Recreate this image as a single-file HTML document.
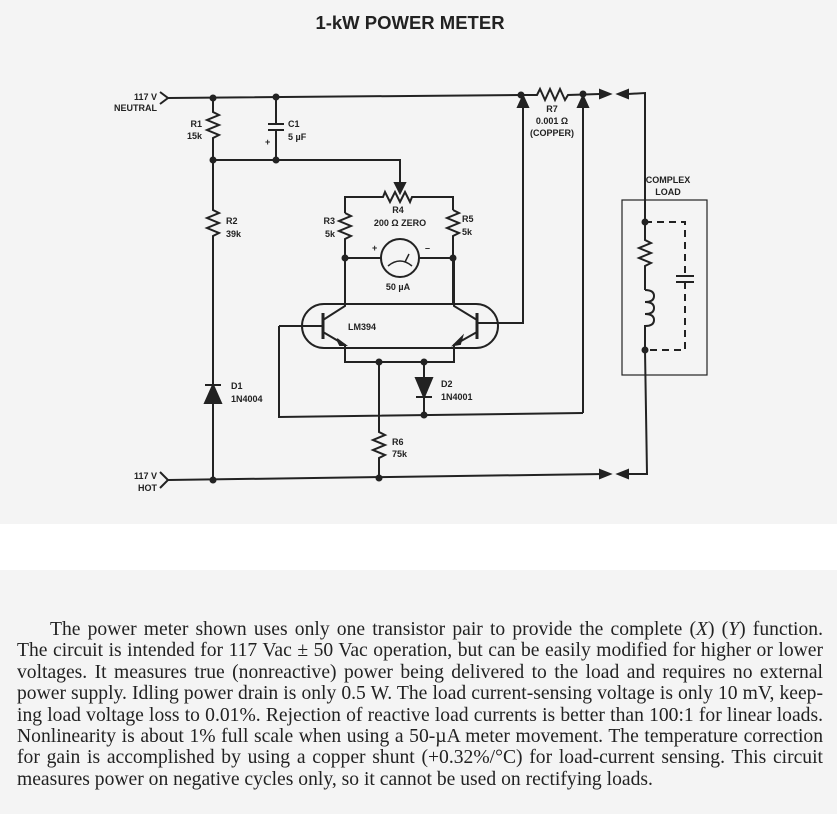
<!DOCTYPE html>
<html><head><meta charset="utf-8"><style>
body{margin:0;width:837px;height:814px;background:#f4f4f4;overflow:hidden;position:relative}
.band{position:absolute;left:0;top:524px;width:837px;height:46px;background:#fff}
svg{position:absolute;left:0;top:0}
.p{position:absolute;left:17px;top:619px;width:806px;font-family:"Liberation Serif",serif;font-size:19.6px;line-height:21.4px;color:#222}
.p div{text-align:justify;text-align-last:justify;white-space:nowrap}
.p div.l{text-align-last:left}
</style></head><body>
<div class="band"></div>
<svg width="837" height="524" viewBox="0 0 837 524" font-family="Liberation Sans,sans-serif" font-weight="bold" fill="none" stroke="#222" stroke-width="2">
<text x="410" y="29" text-anchor="middle" font-size="18.5" fill="#222" stroke="none">1-kW POWER METER</text>
<g fill="#222" stroke="none" font-size="9">
<text x="157" y="100" text-anchor="end">117 V</text><text x="157" y="111" text-anchor="end">NEUTRAL</text>
<text x="202" y="127" text-anchor="end">R1</text><text x="202" y="139" text-anchor="end">15k</text>
<text x="288" y="127">C1</text><text x="288" y="140">5 µF</text><text x="265" y="145">+</text>
<text x="226" y="224">R2</text><text x="226" y="237">39k</text>
<text x="335" y="224" text-anchor="end">R3</text><text x="335" y="237" text-anchor="end">5k</text>
<text x="398" y="213" text-anchor="middle">R4</text><text x="400" y="226" text-anchor="middle">200 Ω ZERO</text>
<text x="462" y="222">R5</text><text x="462" y="235">5k</text>
<text x="372" y="251">+</text><text x="425" y="251">–</text>
<text x="398" y="290" text-anchor="middle">50 µA</text>
<text x="348" y="330">LM394</text>
<text x="231" y="389">D1</text><text x="231" y="402">1N4004</text>
<text x="441" y="387">D2</text><text x="441" y="400">1N4001</text>
<text x="392" y="445">R6</text><text x="392" y="457">75k</text>
<text x="157" y="479" text-anchor="end">117 V</text><text x="157" y="491" text-anchor="end">HOT</text>
<text x="552" y="112" text-anchor="middle">R7</text><text x="552" y="124" text-anchor="middle">0.001 Ω</text><text x="552" y="136" text-anchor="middle">(COPPER)</text>
<text x="668" y="183" text-anchor="middle">COMPLEX</text><text x="668" y="195" text-anchor="middle">LOAD</text>
</g>
<polyline points="160,92 168,98 160,104"/>
<path d="M168,98 L521,95 L537,95 l3,-6 l5,11 l5,-11 l5,11 l5,-11 l5,11 l3,-5 L600,94"/>
<path d="M628,94 L645,93 L645,222"/>
<path d="M600,90 L610,94 L600,98 Z M628,90 L618,94 L628,98 Z" fill="#222"/>
<path d="M213,98 L213,112 l6,3 l-12,5 l12,5 l-12,5 l12,5 l-6,3 L213,160"/>
<path d="M276,97 L276,124 M268,124 L284,124 M268,130 L284,130 M276,130 L276,160"/>
<path d="M213,160 L400,160 L400,188"/>
<path d="M395,183 L400,193 L405,183 Z" fill="#222"/>
<path d="M213,160 L213,210 l6,3 l-12,5 l12,5 l-12,5 l12,5 l-6,3 L213,385"/>
<path d="M205,385 L221,385"/><path d="M213,385 L205,403 L221,403 Z" fill="#222"/>
<path d="M213,403 L213,480"/>
<path d="M345,213 L345,197 L383,197 l2,-5 l5,10 l5,-10 l5,10 l5,-10 l5,10 l2,-5 L453,197 L453,210"/>
<path d="M345,213 l6,3 l-12,5 l12,5 l-12,5 l12,5 l-6,3 L345,303"/>
<path d="M453,210 l6,3 l-12,5 l12,5 l-12,5 l12,5 l-6,3 L453,303"/>
<path d="M345,258 L381,258 M419,258 L453,258"/>
<circle cx="400" cy="258" r="19"/>
<path d="M388,266 Q400,256 412,266 M405,262 L409,254" stroke-width="1.5"/>
<rect x="302" y="304" width="196" height="44" rx="22"/>
<path d="M323,313 L323,339" stroke-width="3"/>
<path d="M279,326 L323,326 M323,320 L345,306 L345,258 M323,332 L345,345 L345,362 L454,362 L454,345 L477,332 M477,320 L454,306 L454,258"/>
<path d="M345,345 L337,339 L340,345 Z" fill="#222"/>
<path d="M477,313 L477,339" stroke-width="3"/>
<path d="M454,345 L462,337 L460,344 Z" fill="#222"/>
<path d="M477,323 L523,323 L523,102"/>
<path d="M518,107 L523,96 L528,107 Z" fill="#222"/>
<path d="M583,413 L583,102"/>
<path d="M578,107 L583,96 L588,107 Z" fill="#222"/>
<path d="M279,326 L279,417 L583,413"/>
<path d="M424,362 L424,378 M416,397 L432,397 M424,397 L424,415"/>
<path d="M416,378 L432,378 L424,397 Z" fill="#222"/>
<path d="M379,362 L379,432 l6,3 l-12,5 l12,5 l-12,5 l12,5 l-6,3 L379,478"/>
<polyline points="160,472 168,480 160,488"/>
<path d="M168,480 L604,474"/>
<path d="M600,470 L610,474 L600,478 Z M628,470 L618,474 L628,478 Z" fill="#222"/>
<path d="M628,474 L647,474 L645,350"/>
<rect x="622" y="200" width="85" height="175" stroke-width="1.2"/>
<path d="M645,222 L645,240 l6,3 l-12,5 l12,5 l-12,5 l12,5 l-6,3 L645,290"/>
<path d="M645,290 q9,0 9,6 q0,6 -9,6 q9,0 9,6 q0,6 -9,6 q9,0 9,6 q0,6 -9,6 L645,350"/>
<path d="M645,222 L685,222 L685,276 M685,282 L685,350 L645,350" stroke-dasharray="7,5"/>
<path d="M676,276 L694,276 M676,282 L694,282"/>
<g fill="#222" stroke="none">
<circle cx="213" cy="98" r="3.5"/><circle cx="276" cy="97" r="3.5"/><circle cx="213" cy="160" r="3.5"/><circle cx="276" cy="160" r="3.5"/>
<circle cx="345" cy="258" r="3.5"/><circle cx="453" cy="258" r="3.5"/><circle cx="521" cy="95" r="3.5"/><circle cx="583" cy="94" r="3.5"/>
<circle cx="379" cy="362" r="3.5"/><circle cx="424" cy="362" r="3.5"/><circle cx="424" cy="415" r="3.5"/>
<circle cx="213" cy="480" r="3.5"/><circle cx="379" cy="478" r="3.5"/><circle cx="645" cy="222" r="3.5"/><circle cx="645" cy="350" r="3.5"/>
</g>
</svg>
<div class="p">
<div style="padding-left:33px">The power meter shown uses only one transistor pair to provide the complete (<i>X</i>) (<i>Y</i>) function.</div>
<div>The circuit is intended for 117 Vac ± 50 Vac operation, but can be easily modified for higher or lower</div>
<div>voltages. It measures true (nonreactive) power being delivered to the load and requires no external</div>
<div>power supply. Idling power drain is only 0.5 W. The load current-sensing voltage is only 10 mV, keep-</div>
<div>ing load voltage loss to 0.01%. Rejection of reactive load currents is better than 100:1 for linear loads.</div>
<div>Nonlinearity is about 1% full scale when using a 50-µA meter movement. The temperature correction</div>
<div>for gain is accomplished by using a copper shunt (+0.32%/°C) for load-current sensing. This circuit</div>
<div class="l">measures power on negative cycles only, so it cannot be used on rectifying loads.</div>
</div>
</body></html>
